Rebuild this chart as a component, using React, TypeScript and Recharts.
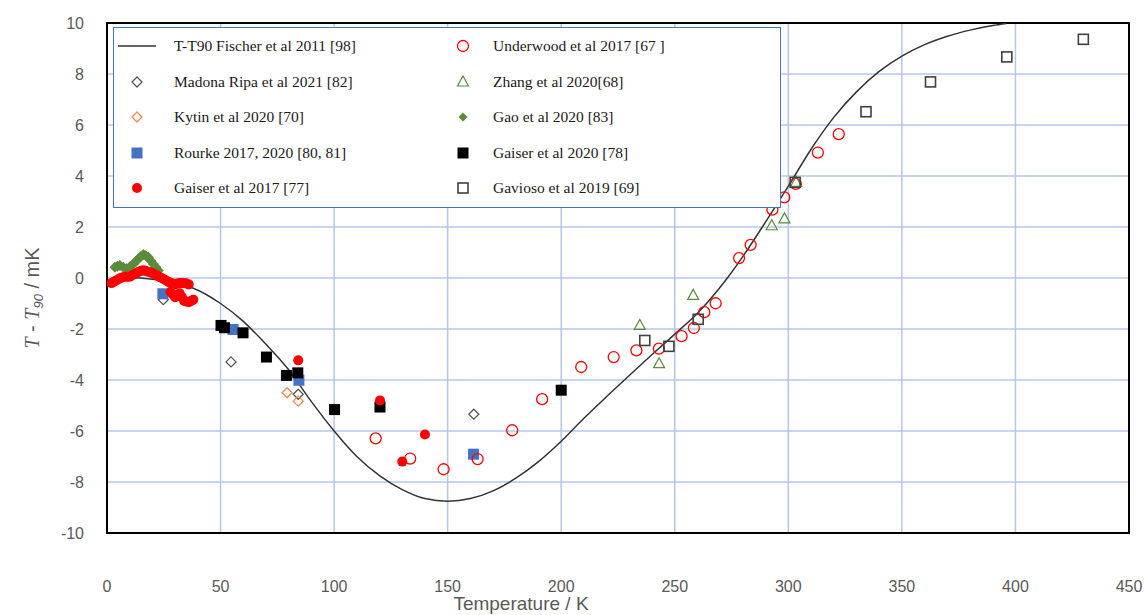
import React from 'react';
import { ComposedChart, Scatter, Line, XAxis, YAxis, CartesianGrid, ReferenceArea } from 'recharts';

// T - T90 (mK) against temperature (K)
const fischerCurve = [
  [2, 0], [10, 0.02], [20, -0.05], [30, -0.2], [38, -0.4], [50, -1.0], [60, -1.7], [70, -2.6],
  [80, -3.6], [90, -4.85], [100, -6.0], [110, -7.0], [120, -7.75], [130, -8.3], [140, -8.65],
  [150, -8.75], [160, -8.65], [170, -8.35], [180, -7.85], [190, -7.2], [200, -6.4], [210, -5.5],
  [220, -4.65], [230, -3.82], [240, -3.0], [250, -2.2], [260, -1.38], [273.16, 0], [280, 0.85],
  [290, 2.2], [300, 3.6], [310, 5.05], [320, 6.3], [330, 7.3], [340, 8.1], [350, 8.7],
  [360, 9.15], [370, 9.48], [380, 9.72], [390, 9.9], [396, 9.98],
];
const underwood2017 = [
  [118.3, -6.29], [133.5, -7.08], [148.2, -7.5], [163.2, -7.1], [178.4, -5.97], [191.6, -4.75],
  [208.8, -3.49], [223.1, -3.1], [233.1, -2.84], [243, -2.77], [253, -2.28], [258.4, -1.96],
  [263, -1.34], [268, -0.99], [278.3, 0.78], [283.4, 1.3], [293, 2.68], [298.2, 3.16],
  [303.3, 3.69], [313, 4.92], [322.2, 5.64],
];
const madonaRipa2021 = [[24.8, -0.85], [54.6, -3.29], [84.2, -4.56], [161.5, -5.34]];
const zhang2020 = [[234.6, -1.86], [243.1, -3.36], [258.1, -0.68], [292.7, 2.05], [298.3, 2.32], [303.4, 3.75]];
const kytin2020 = [[79.3, -4.5], [84.2, -4.83]];
const gao2020 = [
  [3.5, 0.42], [4.6, 0.46], [5.7, 0.49], [7.2, 0.42], [8.7, 0.36], [10.2, 0.45], [11.6, 0.55],
  [12.7, 0.65], [13.8, 0.75], [14.9, 0.84], [16, 0.92], [17.1, 0.87], [18.2, 0.81], [19.3, 0.68],
  [20.4, 0.55], [21.5, 0.42], [22.6, 0.29],
];
const rourke = [[24.6, -0.62], [55.5, -2.02], [84.5, -4.01], [161.4, -6.91]];
const gaiser2020 = [
  [50.2, -1.86], [51.7, -1.95], [59.9, -2.15], [70.2, -3.1], [79, -3.82], [84, -3.72],
  [100.2, -5.16], [120.2, -5.06], [200, -4.4],
];
const gaiser2017 = [
  [2, -0.2], [3, -0.15], [4, -0.1], [5, -0.05], [6, 0.0], [7, 0.03], [8, 0.05], [9, 0.05],
  [10, 0.05], [11, 0.1], [12, 0.15], [13, 0.2], [14, 0.25], [15, 0.28], [16, 0.3], [17, 0.28],
  [18, 0.25], [19, 0.22], [20, 0.2], [21, 0.15], [22, 0.1], [23, 0.05], [24, 0.0], [25, -0.05],
  [26, -0.1], [27, -0.15], [28, -0.2], [29, -0.22], [30, -0.25], [31, -0.22], [32, -0.2],
  [33, -0.2], [34, -0.2], [35, -0.22], [36, -0.25], [28, -0.55], [29, -0.65], [30, -0.75],
  [31, -0.68], [32, -0.6], [33, -0.75], [34, -0.9], [35, -0.92], [36, -0.95], [37, -0.9],
  [38, -0.85], [84.2, -3.23], [120.2, -4.8], [140, -6.14], [130, -7.2],
];
const gavioso2019 = [
  [236.8, -2.45], [247.4, -2.68], [260.3, -1.62], [303, 3.75], [334.2, 6.52], [362.6, 7.69],
  [396.2, 8.67], [429.9, 9.36],
];

const xTicks = [0, 50, 100, 150, 200, 250, 300, 350, 400, 450];
const yTicks = [-10, -8, -6, -4, -2, 0, 2, 4, 6, 8, 10];

const toPoints = (arr: number[][]) => arr.map(([t, d]) => ({ t, d }));

const RED = '#ff0000';
const GREEN = '#5b8c3a';
const BLUE = '#4472c4';
const ORANGE = '#f08a4b';
const GREY = '#555555';
const AXIS_FONT = '"Liberation Sans Narrow", "Liberation Sans", sans-serif';

type Mark = 'line' | 'openCircle' | 'dot' | 'openDiamond' | 'triangle' | 'smallDiamond' | 'square' | 'openSquare';

function drawMark(kind: Mark, color: string, cx: number, cy: number, big = false) {
  switch (kind) {
    case 'openCircle':
      return <circle cx={cx} cy={cy} r={5.5} fill="none" stroke={color} strokeWidth={1.3} />;
    case 'dot':
      return <circle cx={cx} cy={cy} r={5} fill={color} />;
    case 'openDiamond':
      return (
        <polygon
          points={`${cx},${cy - 5} ${cx + 5},${cy} ${cx},${cy + 5} ${cx - 5},${cy}`}
          fill="none" stroke={color} strokeWidth={1.3}
        />
      );
    case 'smallDiamond': {
      const s = big ? 5.5 : 4.5;
      return (
        <polygon points={`${cx},${cy - s} ${cx + s},${cy} ${cx},${cy + s} ${cx - s},${cy}`} fill={color} />
      );
    }
    case 'triangle':
      return (
        <polygon points={`${cx},${cy - 6} ${cx + 5.5},${cy + 4} ${cx - 5.5},${cy + 4}`} fill="none" stroke={color} strokeWidth={1.2} />
      );
    case 'square':
      return <rect x={cx - 5.5} y={cy - 5.5} width={11} height={11} fill={color} />;
    case 'openSquare':
      return <rect x={cx - 5} y={cy - 5} width={10} height={10} fill="none" stroke={color} strokeWidth={1.6} />;
    default:
      return <line x1={cx - 19} y1={cy} x2={cx + 19} y2={cy} stroke={color} strokeWidth={1.5} />;
  }
}

const legendItems: { name: string; kind: Mark; color: string }[] = [
  { name: 'T-T90 Fischer et al 2011 [98]', kind: 'line', color: '#333333' },
  { name: 'Underwood et al 2017 [67 ]', kind: 'openCircle', color: RED },
  { name: 'Madona Ripa et al 2021 [82]', kind: 'openDiamond', color: GREY },
  { name: 'Zhang et al 2020[68]', kind: 'triangle', color: GREEN },
  { name: 'Kytin et al 2020 [70]', kind: 'openDiamond', color: ORANGE },
  { name: 'Gao et al 2020 [83]', kind: 'smallDiamond', color: GREEN },
  { name: 'Rourke 2017, 2020 [80, 81]', kind: 'square', color: BLUE },
  { name: 'Gaiser et al 2020 [78]', kind: 'square', color: '#000000' },
  { name: 'Gaiser et al 2017 [77]', kind: 'dot', color: RED },
  { name: 'Gavioso et al 2019 [69]', kind: 'openSquare', color: '#404040' },
];

function LegendBox() {
  return (
    <div
      style={{
        position: 'absolute', left: 113, top: 27, width: 668, height: 181,
        border: `1.5px solid ${BLUE}`, background: '#fff', boxSizing: 'border-box',
      }}
    >
      {legendItems.map((it, i) => {
        const col = i % 2;
        const row = Math.floor(i / 2);
        const top = 18 + row * 35.5;
        const left = col === 0 ? 23 : 349;
        return (
          <div key={it.name}>
            <svg style={{ position: 'absolute', left: left - 22, top: top - 10 }} width={44} height={20}>
              {drawMark(it.kind, it.color, 22, 10)}
            </svg>
            <span
              style={{
                position: 'absolute', left: col === 0 ? 60 : 379, top: top - 10, lineHeight: '20px',
                fontFamily: '"Liberation Serif", serif', fontSize: 15.5, color: '#1a1a1a', whiteSpace: 'nowrap',
              }}
            >
              {it.name}
            </span>
          </div>
        );
      })}
    </div>
  );
}

const XTick = (props: any) => {
  const { x, payload } = props;
  return (
    <text x={x} y={592} textAnchor="middle" fontFamily={AXIS_FONT} fontSize={16} fill="#595959">
      {payload.value}
    </text>
  );
};

const YTick = (props: any) => {
  const { y, payload } = props;
  return (
    <text x={84} y={y + 6} textAnchor="end" fontFamily={AXIS_FONT} fontSize={16} fill="#595959">
      {payload.value}
    </text>
  );
};

const YTitle = () => (
  <text transform="translate(39,298) rotate(-90)" textAnchor="middle" fontFamily={AXIS_FONT} fontSize={20} fill="#595959">
    <tspan fontStyle="italic" fontFamily='"Liberation Serif", serif'>T</tspan>
    <tspan> - </tspan>
    <tspan fontStyle="italic" fontFamily='"Liberation Serif", serif'>T</tspan>
    <tspan fontStyle="italic" fontSize={13} dy={4}>90</tspan>
    <tspan dy={-4}> / mK</tspan>
  </text>
);

const XTitle = () => (
  <text x={521} y={610} textAnchor="middle" fontFamily={AXIS_FONT} fontSize={19} fill="#595959">
    Temperature / K
  </text>
);

const shapeOf = (kind: Mark, color: string, big = false) => (p: any) => drawMark(kind, color, p.cx, p.cy, big);

export default function App() {
  return (
    <div style={{ position: 'absolute', left: 0, top: 0, width: 1146, height: 615, background: '#fff' }}>
      <ComposedChart width={1146} height={615} margin={{ top: 23, right: 17, bottom: 0, left: 0 }}>
        <CartesianGrid stroke="#b4c7e7" strokeWidth={1.5} />
        <XAxis
          type="number" dataKey="t" domain={[0, 450]} ticks={xTicks} tick={<XTick />}
          tickLine={false} axisLine={false} height={82} label={<XTitle />}
        />
        <YAxis
          type="number" dataKey="d" domain={[-10, 10]} ticks={yTicks} tick={<YTick />}
          tickLine={false} axisLine={false} width={107} allowDataOverflow label={<YTitle />}
        />
        <ReferenceArea x1={0} x2={450} y1={-10} y2={10} fill="none" stroke="#000" strokeWidth={2} />
        <Scatter data={toPoints(madonaRipa2021)} shape={shapeOf('openDiamond', GREY)} isAnimationActive={false} />
        <Scatter data={toPoints(kytin2020)} shape={shapeOf('openDiamond', ORANGE)} isAnimationActive={false} />
        <Scatter data={toPoints(rourke)} shape={shapeOf('square', BLUE)} isAnimationActive={false} />
        <Scatter data={toPoints(gaiser2020)} shape={shapeOf('square', '#000')} isAnimationActive={false} />
        <Scatter data={toPoints(gao2020)} shape={shapeOf('smallDiamond', GREEN, true)} isAnimationActive={false} />
        <Scatter data={toPoints(gaiser2017)} shape={shapeOf('dot', RED)} isAnimationActive={false} />
        <Line
          data={toPoints(fischerCurve)}
          dataKey="d"
          type="monotone"
          stroke="#333333"
          strokeWidth={1.5}
          dot={false}
          activeDot={false}
          isAnimationActive={false}
        />
        <Scatter data={toPoints(underwood2017)} shape={shapeOf('openCircle', RED)} isAnimationActive={false} />
        <Scatter data={toPoints(zhang2020)} shape={shapeOf('triangle', GREEN)} isAnimationActive={false} />
        <Scatter data={toPoints(gavioso2019)} shape={shapeOf('openSquare', '#404040')} isAnimationActive={false} />
      </ComposedChart>
      <LegendBox />
    </div>
  );
}
